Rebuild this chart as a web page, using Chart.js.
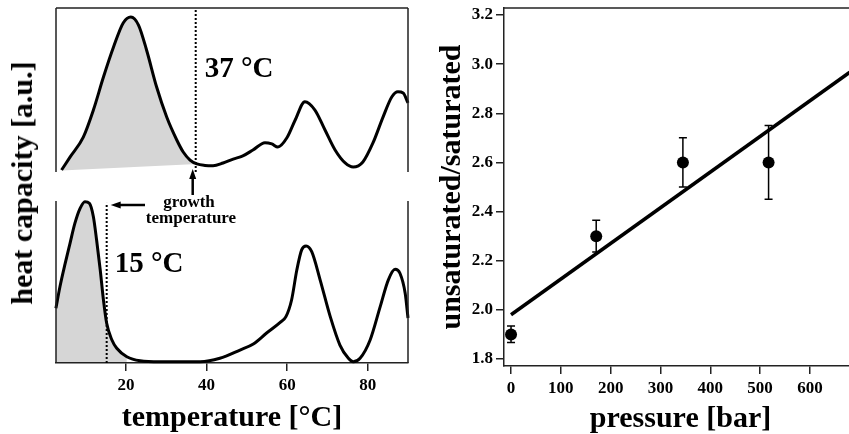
<!DOCTYPE html>
<html>
<head>
<meta charset="utf-8">
<script src="https://cdn.jsdelivr.net/npm/chart.js@4.4.1/dist/chart.umd.min.js"></script>
<style>
  body { margin: 0; background: #fff; overflow: hidden; }
  #wrap { position: relative; width: 849px; height: 434px; background: #fff; overflow: hidden; }
  canvas { position: absolute; }
  #ylab {
    position: absolute; left: 22px; top: 183px;
    transform: translate(-50%, -50%) rotate(-90deg);
    font: bold 30px 'Liberation Serif', 'Times New Roman', serif;
    line-height: 1; white-space: nowrap; color: #000;
  }
</style>
</head>
<body>
<div id="wrap">
  <canvas id="cTop" width="420" height="176" style="left:0;top:0"></canvas>
  <canvas id="cBot" width="420" height="268" style="left:0;top:166px"></canvas>
  <canvas id="cRight" width="443" height="434" style="left:420px;top:0"></canvas>
  <div id="ylab">heat capacity [a.u.]</div>
</div>
<script>
// heat capacity curves (temperature in °C, heat capacity in a.u.)
const tempTop = [4.0, 6.1, 9.4, 11.9, 14.4, 16.9, 19.3, 21.2, 23.1, 25.1, 27.6, 30.1, 32.6, 34.2, 35.9, 37.6,
  39.6, 41.6, 44.1, 46.6, 49.0, 51.5, 54.5, 56.2, 57.7, 59.9, 62.0, 64.4, 66.9, 69.4, 71.9, 74.4, 76.4,
  78.8, 81.3, 83.8, 86.0, 87.5, 88.8, 90.0];
const cpTop = [1.2, 9.1, 21.3, 37.8, 57.9, 76.2, 90.9, 94.5, 89.6, 74.4, 51.8, 33.5, 19.5, 12.2, 7.3, 4.9,
  4.0, 3.8, 5.5, 7.9, 9.8, 13.4, 17.9, 17.1, 15.2, 20.7, 31.7, 42.9, 37.8, 25.6, 13.4, 5.5, 3.0,
  6.1, 17.7, 33.5, 45.9, 48.9, 48.2, 42.1];

const tempBottom = [2.6, 3.6, 4.9, 6.1, 7.3, 8.6, 9.8, 10.9, 11.9, 12.7, 13.6, 14.4, 15.2, 16.5, 17.7, 20.2,
  23.5, 28.4, 38.4, 43.3, 48.3, 51.6, 54.9, 58.2, 59.7, 61.1, 62.4, 63.6, 64.7, 66.1, 68.2, 70.7, 73.1,
  75.2, 76.4, 78.1, 80.6, 83.1, 85.1, 86.8, 88.0, 89.3, 90.0];
const cpBottom = [33.8, 47.1, 61.5, 73.9, 86.2, 95.5, 99.6, 98.6, 90.3, 75.9, 57.4, 38.9, 24.5, 14.2, 9.1, 3.9,
  1.4, 0.8, 0.8, 2.9, 8.0, 11.7, 18.5, 24.9, 28.6, 38.9, 57.4, 69.8, 72.2, 68.7, 51.2, 28.6, 11.1,
  2.9, 0.8, 2.9, 14.2, 34.8, 51.2, 57.8, 55.4, 43.0, 27.8];
const tempTicks = [20, 40, 60, 80];

// shaded main transition: end temperature and straight baseline below it
const shadeEndTop = 37.6;
const baseTempTop = [4.0, 37.6];
const baseCpTop = [0.9, 4.9];
const shadeEndBottom = 20.2;
const baseCpBottom = 0.6;

// growth temperatures
const growthTemp = [37.3, 15.2];
const growthLabel = ['37 °C', '15 °C'];

// right panel: pressure vs unsaturated/saturated ratio
const pressure = [0, 171, 345, 517];
const ratio = [1.90, 2.30, 2.60, 2.60];
const ratioLow = [1.867, 2.235, 2.50, 2.45];
const ratioHigh = [1.934, 2.365, 2.70, 2.75];
const fitPressure = [0, 680];
const fitRatio = [1.98, 2.967];
const pressureTicks = [0, 100, 200, 300, 400, 500, 600];
const ratioTicks = [1.8, 2.0, 2.2, 2.4, 2.6, 2.8, 3.0, 3.2];

const FONT = "'Liberation Serif', 'Times New Roman', serif";
Chart.defaults.font.family = FONT;
Chart.defaults.font.weight = 'bold';
Chart.defaults.color = '#000';

function pts(xs, ys) {
  return xs.map((x, i) => ({ x: x, y: ys[i] }));
}

function setTicks(list) {
  return scale => { scale.ticks = list.map(v => ({ value: v })); };
}

const framePlugin = {
  id: 'frame',
  afterDraw(chart, args, opts) {
    const { ctx, chartArea: a } = chart;
    const sides = opts.sides || [];
    ctx.save();
    ctx.strokeStyle = '#222';
    ctx.lineWidth = 1.5;
    ctx.beginPath();
    if (sides.includes('top')) { ctx.moveTo(a.left, a.top); ctx.lineTo(a.right, a.top); }
    if (sides.includes('left')) { ctx.moveTo(a.left, a.top); ctx.lineTo(a.left, a.bottom); }
    if (sides.includes('right')) { ctx.moveTo(a.right, a.top); ctx.lineTo(a.right, a.bottom); }
    ctx.stroke();
    ctx.restore();
  }
};
Chart.register(framePlugin);

function arrow(ctx, x1, y1, x2, y2) {
  // line from (x1,y1) with the head at (x2,y2)
  const ang = Math.atan2(y2 - y1, x2 - x1);
  const len = 10, half = 3.5;
  ctx.beginPath();
  ctx.moveTo(x1, y1);
  ctx.lineTo(x2 - Math.cos(ang) * len * 0.8, y2 - Math.sin(ang) * len * 0.8);
  ctx.stroke();
  ctx.beginPath();
  ctx.moveTo(x2, y2);
  ctx.lineTo(x2 - Math.cos(ang) * len - Math.sin(ang) * half, y2 - Math.sin(ang) * len + Math.cos(ang) * half);
  ctx.lineTo(x2 - Math.cos(ang) * len + Math.sin(ang) * half, y2 - Math.sin(ang) * len - Math.cos(ang) * half);
  ctx.closePath();
  ctx.fill();
}

const curveStyle = {
  borderColor: '#000', borderWidth: 3, pointRadius: 0,
  cubicInterpolationMode: 'monotone', fill: false, clip: 6
};
const dotStyle = {
  borderColor: '#000', borderWidth: 2, borderDash: [2, 2], pointRadius: 0, fill: false
};

const baseOptions = {
  responsive: false,
  animation: false,
  devicePixelRatio: 1,
  events: [],
  plugins: { legend: { display: false }, tooltip: { enabled: false } }
};

// ---- top left panel (grown at 37 °C)
new Chart(document.getElementById('cTop'), {
  type: 'line',
  data: {
    datasets: [
      Object.assign({ data: pts(tempTop, cpTop) }, curveStyle),
      Object.assign({ data: pts([growthTemp[0], growthTemp[0]], [0, 100]) }, dotStyle),
      {
        data: pts(tempTop, cpTop).filter(p => p.x <= shadeEndTop),
        borderWidth: 0, pointRadius: 0, cubicInterpolationMode: 'monotone',
        backgroundColor: '#d6d6d6', fill: 3
      },
      { data: pts(baseTempTop, baseCpTop), borderWidth: 0, pointRadius: 0, fill: false }
    ]
  },
  options: Object.assign({}, baseOptions, {
    layout: { padding: { left: 56, right: 12, top: 8, bottom: 4 } },
    scales: {
      x: { type: 'linear', min: 2.62, max: 90, display: false },
      y: { min: 0, max: 100, display: false }
    },
    plugins: Object.assign({}, baseOptions.plugins, { frame: { sides: ['top', 'left', 'right'] } })
  }),
  plugins: [{
    id: 'label37',
    afterDraw(chart) {
      const ctx = chart.ctx;
      const x = chart.scales.x.getPixelForValue(growthTemp[0]);
      ctx.save();
      ctx.fillStyle = '#000';
      ctx.font = 'bold 29px ' + FONT;
      ctx.textBaseline = 'alphabetic';
      ctx.fillText(growthLabel[0], x + 9, 77);
      ctx.restore();
    }
  }]
});

// ---- bottom left panel (grown at 15 °C)
new Chart(document.getElementById('cBot'), {
  type: 'line',
  data: {
    datasets: [
      Object.assign({ data: pts(tempBottom, cpBottom) }, curveStyle),
      Object.assign({ data: pts([growthTemp[1], growthTemp[1]], [0, 98.8]) }, dotStyle),
      {
        data: pts(tempBottom, cpBottom).filter(p => p.x <= shadeEndBottom),
        borderWidth: 0, pointRadius: 0, cubicInterpolationMode: 'monotone',
        backgroundColor: '#d6d6d6', fill: { value: baseCpBottom }
      }
    ]
  },
  options: Object.assign({}, baseOptions, {
    layout: { padding: { left: 56, right: 12, top: 35, bottom: 0 } },
    scales: {
      x: {
        type: 'linear', min: 2.62, max: 90,
        afterBuildTicks: setTicks(tempTicks),
        ticks: { padding: 4, maxRotation: 0, color: '#000', font: { size: 17, weight: 'bold' } },
        grid: { drawOnChartArea: false, tickLength: 8, color: '#222', lineWidth: 1.5 },
        border: { display: true, color: '#222', width: 1.5 },
        title: { display: true, text: 'temperature [°C]', color: '#000',
          font: { size: 30, weight: 'bold', lineHeight: 1 }, padding: { top: 0, bottom: 1 } },
        afterFit: s => { s.height = 71; }
      },
      y: { min: 0, max: 100, display: false }
    },
    plugins: Object.assign({}, baseOptions.plugins, { frame: { sides: ['left', 'right'] } })
  }),
  plugins: [{
    id: 'notes',
    afterDraw(chart) {
      const ctx = chart.ctx;
      const sx = chart.scales.x;
      const x37 = sx.getPixelForValue(growthTemp[0]);
      const x15 = sx.getPixelForValue(growthTemp[1]);
      ctx.save();
      ctx.fillStyle = '#000';
      ctx.strokeStyle = '#000';
      ctx.lineWidth = 2.5;
      ctx.font = 'bold 29px ' + FONT;
      ctx.textBaseline = 'alphabetic';
      ctx.fillText(growthLabel[1], x15 + 8, 106);
      ctx.font = 'bold 17px ' + FONT;
      ctx.textAlign = 'center';
      ctx.fillText('growth', 189, 41);
      ctx.fillText('temperature', 191, 57);
      arrow(ctx, x37 - 3, 29, x37 - 3, 3);
      arrow(ctx, 145, 39, x15 + 4, 39);
      ctx.restore();
    }
  }]
});

// ---- right panel
new Chart(document.getElementById('cRight'), {
  type: 'scatter',
  data: {
    datasets: [
      {
        type: 'scatter', data: pts(pressure, ratio),
        pointRadius: 6, pointBackgroundColor: '#000', pointBorderWidth: 0, borderColor: '#000'
      },
      {
        type: 'line', data: pts(fitPressure, fitRatio),
        borderColor: '#000', borderWidth: 3.5, pointRadius: 0, fill: false
      }
    ]
  },
  options: Object.assign({}, baseOptions, {
    layout: { padding: { left: 0, right: 0, top: 8, bottom: 0 } },
    scales: {
      x: {
        type: 'linear', min: -14.1, max: 694.5,
        afterBuildTicks: setTicks(pressureTicks),
        ticks: { padding: 4, maxRotation: 0, color: '#000', font: { size: 17, weight: 'bold' } },
        grid: { drawOnChartArea: false, tickLength: 8, color: '#222', lineWidth: 1.5 },
        border: { display: true, color: '#222', width: 1.5 },
        title: { display: true, text: 'pressure [bar]', color: '#000',
          font: { size: 30, weight: 'bold', lineHeight: 1 }, padding: { top: 0, bottom: 0 } },
        afterFit: s => { s.height = 68; s.paddingLeft = 0; s.paddingRight = 0; }
      },
      y: {
        type: 'linear', min: 1.7715, max: 3.2285,
        afterBuildTicks: setTicks(ratioTicks),
        ticks: { padding: 3, color: '#000', font: { size: 17, weight: 'bold' }, callback: v => v.toFixed(1) },
        grid: { drawOnChartArea: false, tickLength: 8, color: '#222', lineWidth: 1.5 },
        border: { display: true, color: '#222', width: 1.5 },
        title: { display: true, text: 'unsaturated/saturated', color: '#000',
          font: { size: 30, weight: 'bold', lineHeight: 1 }, padding: { top: 17, bottom: 0 } },
        afterFit: s => { s.width = 84; s.paddingTop = 0; s.paddingBottom = 0; }
      }
    },
    plugins: Object.assign({}, baseOptions.plugins, { frame: { sides: ['top'] } })
  }),
  plugins: [{
    id: 'errorBars',
    beforeDatasetsDraw(chart) {
      const { ctx, scales: { x, y } } = chart;
      ctx.save();
      ctx.strokeStyle = '#000';
      ctx.lineWidth = 1.5;
      pressure.forEach((p, i) => {
        const px = x.getPixelForValue(p);
        const lo = y.getPixelForValue(ratioLow[i]);
        const hi = y.getPixelForValue(ratioHigh[i]);
        ctx.beginPath();
        ctx.moveTo(px, lo); ctx.lineTo(px, hi);
        ctx.moveTo(px - 4, lo); ctx.lineTo(px + 4, lo);
        ctx.moveTo(px - 4, hi); ctx.lineTo(px + 4, hi);
        ctx.stroke();
      });
      ctx.restore();
    }
  }]
});
</script>
</body>
</html>
